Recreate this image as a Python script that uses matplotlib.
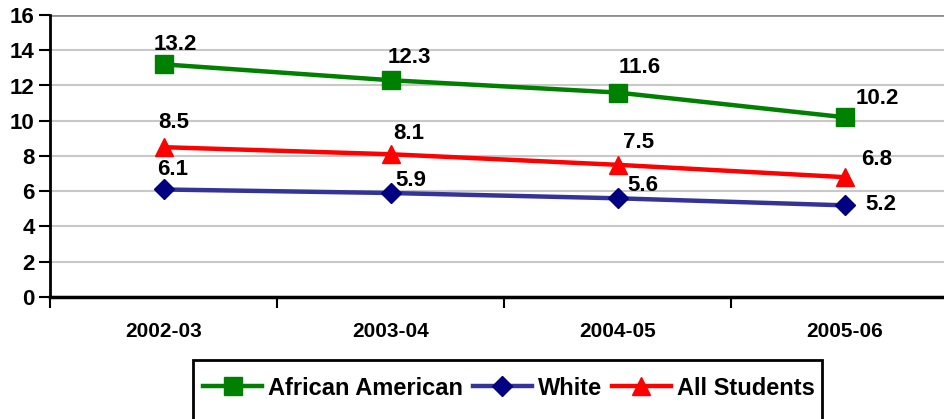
import numpy as np
import matplotlib
matplotlib.use('Agg')
import matplotlib.pyplot as plt
from matplotlib.patches import Rectangle

plt.rcParams['font.family'] = ['Liberation Sans', 'DejaVu Sans']
plt.rcParams['font.weight'] = 'bold'

years = ['2002-03', '2003-04', '2004-05', '2005-06']
african_american = [13.2, 12.3, 11.6, 10.2]
white = [6.1, 5.9, 5.6, 5.2]
all_students = [8.5, 8.1, 7.5, 6.8]

# label offsets in pixels, one per point
aa_off = [(12, 20), (19, 23), (22, 25), (33, 19)]
all_off = [(10, 25), (18, 21), (21, 22), (32, 18)]
white_off = [(9, 20), (20, 13), (25, 13), (36, 1)]

fig = plt.figure(figsize=(9.45, 4.19), dpi=100)
ax = fig.add_axes([50/945, 1 - 297/419, 908/945, 282/419])

x = np.arange(len(years))
ax.plot(x, african_american, color='#008000', lw=3.2, marker='s', ms=13,
        mfc='#008000', mec='#008000', label='African American', zorder=3)
ax.plot(x, white, color='#333399', lw=3.2, marker='D', ms=10,
        mfc='#000080', mec='#000080', label='White', zorder=3)
ax.plot(x, all_students, color='#FF0000', lw=3.2, marker='^', ms=13,
        mfc='#FF0000', mec='#FF0000', label='All Students', zorder=3)

for vals, offs in [(african_american, aa_off), (all_students, all_off), (white, white_off)]:
    for i, v in enumerate(vals):
        ax.annotate(f'{v:.1f}', (i, v), xytext=offs[i], textcoords='offset pixels',
                    ha='center', va='center', fontsize=16, fontweight='bold')

ax.set_xlim(-0.5, 3.5)
ax.set_ylim(0, 16)
ax.set_yticks(range(0, 17, 2))
ax.set_xticks(x)
ax.set_xticklabels(years)
ax.set_xticks(np.arange(-0.5, 4, 1), minor=True)
ax.tick_params(axis='x', which='major', length=0, pad=18, labelsize=15)
ax.tick_params(axis='x', which='minor', length=8, width=1.5)
ax.tick_params(axis='y', length=8, width=1.5, labelsize=16, pad=3)

ax.grid(axis='y', color='#C8C8C8', lw=1.5)
ax.set_axisbelow(True)
ax.axhline(16, color='#909090', lw=2, zorder=1)
for s in ['top', 'right']:
    ax.spines[s].set_visible(False)
ax.spines['left'].set_linewidth(2)
ax.spines['bottom'].set_linewidth(2.5)

# legend box runs past the bottom edge of the figure
fig.patches.append(Rectangle((193/945, -0.05), 629/945, 0.05 + 59/419,
                             transform=fig.transFigure, fill=False,
                             ec='black', lw=2))
fig.legend(loc='center left', bbox_to_anchor=(203/945, 1 - 388/419), ncol=3,
           frameon=False, handlelength=2.5, handletextpad=0.25,
           columnspacing=0.42, borderaxespad=0, borderpad=0,
           prop={'weight': 'bold', 'size': 17})

fig.savefig('out.png', dpi=100)
